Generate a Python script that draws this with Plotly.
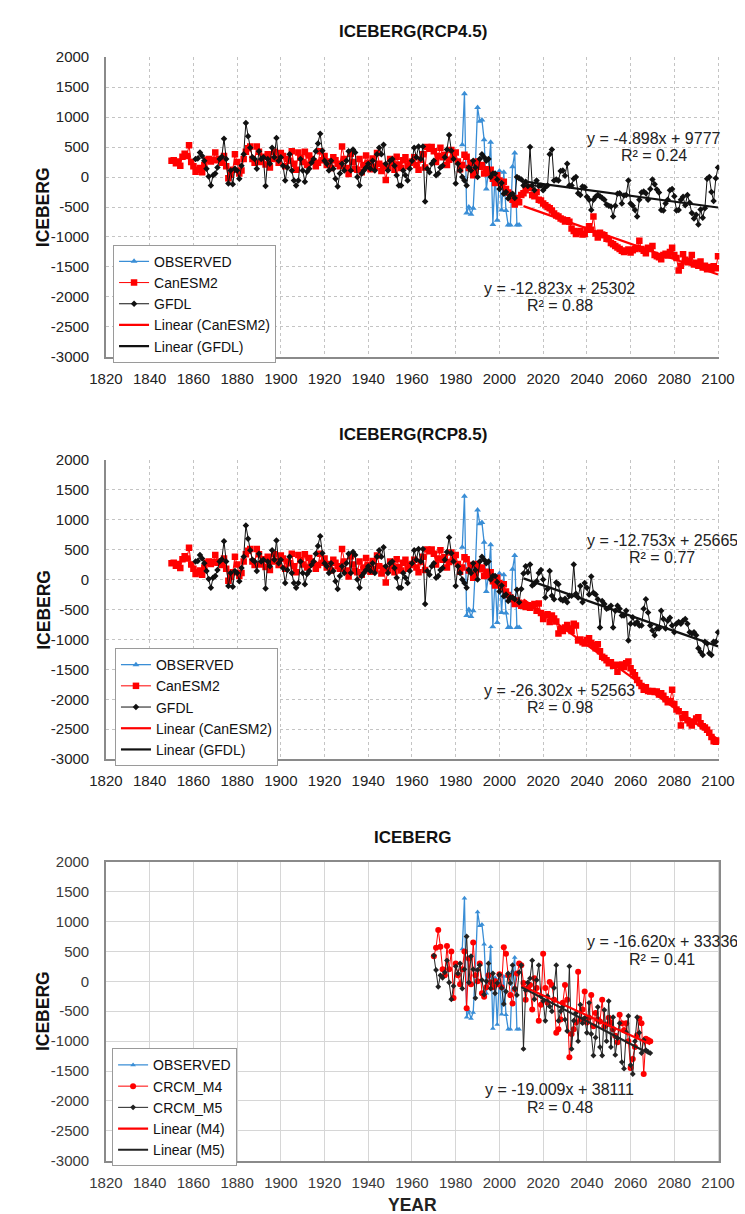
import plotly.graph_objects as go

W, H = 745, 1214

# ---------------- data ----------------
obs_start = 1983
observed = [540, 1390, -600, -500, -620, -520, 200, 1160, 930, 950, 620, -200, 80, 580,
            -790, 60, -720, 100, -550, 80, -560, -800, -800, 170, 400, -800, -800]

can_start = 1850
can_hist = [270, 280, 230, 260, 190, 340, 390, 350, 530, 250,
            180, 90, 120, 150, 80, 200, 280, 300, 260, 290,
            410, 280, 300, 240, 350, 180, -20, 40, 120, 380,
            250, 60, 110, 300, 420, 480, 510, 300, 240, 510,
            420, 250, 340, 210, 380, 160, 300, 420, 310, 240,
            400, 350, 180, 300, 270, 430, 220, 120, 410, 320,
            250, 420, 200, 360, 300, 260, 180, 240, 430, 280,
            350, 200, 260, 150, 330, 280, 220, 180, 510, 300,
            150, 50, 390, 250, 140, 120, 300, 80, 200, 360,
            240, 130, 310, 170, 400, 220, 100, 190, -50, 160,
            300, 230, 120, 340, 210, 150, 280, 330, 180, 240,
            260, 330, 200, 120, 290, 380, 160, 500, 470, 500,
            430, 250, 350, 490, 330, 370, 200, 290, 450, 330,
            410, 260, 130, 200, 370, 340, 150, 240, 30, 100,
            260, 170, 200, 60, 130, 70, 120, -30, -100, 30,
            -60, -130, -80, -200, -260, -300]

gfdl_start = 1861
gfdl_hist = [300, 310, 410, 350, 270, 140, 10, -140, 30, 60,
             160, 300, 340, 640, 300, -110, 110, -120, 140, 110,
             -30, 190, 380, 900, 680, 490, 330, 300, 140, 430,
             300, 330, -150, 300, 220, 490, 330, 650, 270, 330,
             190, -60, 160, 380, 110, -60, -140, -60, 300, 110,
             -80, 90, 140, 240, 300, 430, 560, 720, 440, 270,
             220, 110, 270, 140, -30, -160, 60, 220, 110, 270,
             430, 110, 460, 410, 0, -140, 60, 110, 160, 220,
             140, 270, 110, 380, 490, 380, 540, 220, 110, 270,
             300, 190, 30, -140, -140, 110, 30, -60, 140, 270,
             490, 330, 510, 300, 510, -410, 140, 80, 220, 270,
             30, 60, 160, 190, 330, 460, 700, 440, 300, -110,
             220, 110, 0, -60, -140, 160, 110, 270, 160, 0,
             300, 380, 330, 270, 300, 0, 60, 60, -40, -200,
             -100, -280, -250, -360, -300]

fut_start = 2006
can_rcp45 = [-380, -460, -350, -420, -300, -270, -220, -180, -170, -300,
             -320, -250, -380, -390, -440, -470, -500, -520, -560, -610,
             -640, -660, -690, -710, -740, -720, -745, -860, -900, -950,
             -920, -900, -960, -950, -880, -820, -880, -660, -940, -1010,
             -930, -960, -970, -1030, -1040, -1100, -1120, -1150, -1175, -1200,
             -1230, -1250, -1230, -1210, -1260, -1220, -1200, -1180, -1065, -1200,
             -1230, -1270, -1180, -1200, -1150, -1300, -1320, -1340, -1370, -1300,
             -1280, -1310, -1250, -1180, -1300, -1350, -1560, -1480, -1290, -1380,
             -1420, -1400, -1300, -1460, -1430, -1480, -1410, -1510, -1480, -1540,
             -1500, -1530, -1490, -1520, -1320]
gfdl_rcp45 = [-280, -350, 0, -20, -40, -140, -80, -150, 500, -140,
              -220, -60, -150, -140, -220, -170, -140, 380, 460, -60,
              -40, -60, 100, 110, 20, 220, -140, -140, -30, 0,
              -270, -300, -160, -170, -330, -380, -550, -380, -330, -300,
              -320, -350, -380, -460, -480, -490, -660, -480, -280, -270,
              -440, -310, -300, -60, -440, -480, -550, -660, -380, -260,
              -240, -270, -380, -200, -40, -120, -210, -260, -550, -560,
              -440, -380, -220, -200, -320, -560, -550, -380, -330, -470,
              -300, -430, -600, -690, -630, -790, -540, -680, -520, -30,
              0, -250, -400, -20, 160]
can_rcp85 = [-330, -410, -350, -390, -440, -400, -460, -430, -470, -440,
             -410, -520, -400, -560, -660, -600, -580, -710, -600, -650,
             -700, -900, -830, -860, -800, -760, -820, -860, -740, -770,
             -1020, -1000, -1050, -1070, -1010, -980, -1060, -1100, -1150, -1080,
             -1200, -1290, -1310, -1350, -1400, -1380, -1440, -1425, -1540, -1430,
             -1420, -1460, -1400, -1370, -1480, -1550, -1600, -1680, -1730, -1780,
             -1840, -1800, -1860, -1870, -1860, -1880, -1870, -1920, -1900, -1940,
             -2000, -2050, -2030, -1840, -2080, -2170, -2200, -2440, -2310, -2250,
             -2350, -2400, -2440, -2370, -2320, -2300, -2400, -2450, -2470, -2510,
             -2560, -2630, -2700, -2710, -2690]
gfdl_rcp85 = [-300, -330, -170, -380, -160, 100, 220, 120, 250, -100,
              -70, -30, 110, 160, 0, -300, -160, 140, -270, -330,
              -50, -80, -330, -350, -320, -380, -270, -270, 250, -240,
              -300, -110, -380, -60, -140, -250, 50, -220, -250, -330,
              -800, -360, -410, -490, -470, -440, -800, -520, -440, -490,
              -600, -600, -520, -1020, -740, -630, -740, -710, -770, -770,
              -490, -330, -550, -770, -850, -930, -820, -820, -520, -660,
              -820, -690, -640, -770, -880, -740, -710, -740, -690, -660,
              -740, -880, -900, -880, -930, -1150, -1210, -1260, -1040, -1070,
              -1230, -1260, -1040, -1040, -880]

crcm_start = 1970
crcm_m4 = [420, 560, 860, 580, 200, 100, 590, 200, 500, -280,
           300, 100, -50, 200, 500, -450, 380, -50, 650, 100,
           0, 300, -200, -260, -100, 100, -20, -100, 0, -50,
           120, -100, 570, 460, 100, -230, -370, -130, 130, 300,
           270, -30, -310, -110, -60, -470, 50, -110, -660, -390,
           460, -110, -360, -10, -60, -310, -860, -800, -640, -360,
           -60, -310, -1270, -880, -800, -690, 160, -640, -470, -170,
           -690, -610, -230, -750, -530, -640, -670, -310, -750, -720,
           -610, -690, -800, -910, -1020, -560, -700, -820, -700, -1000,
           -1450, -1300, -1100, -900, -620, -700, -1550, -960, -980, -1000]
crcm_m5 = [430, 190, -90, 100, 60, 150, 350, -20, -300, -80,
           250, 130, 300, -120, 200, 750, -20, 420, 200, -280,
           190, 270, 20, -220, 0, 300, -120, 130, -200, -30,
           110, -110, -380, -170, 130, -30, 270, -120, -230, 150,
           270, -1130, -150, -20, 50, 350, -300, 20, 270, -250,
           -330, -660, -250, -420, -500, -110, 270, -660, -500, -420,
           -640, -830, 250, -1130, -660, -530, -1000, -390, -700, -610,
           -860, -360, -880, -1240, -940, -430, -1100, -1240, -480, -1000,
           -330, -1100, -600, -1230, -950, -700, -1350, -1460, -850, -580,
           -1400, -1550, -1000, -600, -860, -1200, -980, -1150, -1180, -1200]

# trend lines (slope, intercept, start year, end year) as printed on chart
trend_can45 = (-12.823, 25302, 2011, 2100)
trend_gfdl45 = (-4.898, 9777, 2010, 2100)
trend_can85 = (-26.302, 52563, 2011, 2100)
trend_gfdl85 = (-12.753, 25665, 2011, 2100)
trend_m4 = (-16.620, 33336, 2010, 2069)
trend_m5 = (-19.009, 38111, 2010, 2069)

x_ticks = list(range(1820, 2101, 20))
y_ticks = [2000, 1500, 1000, 500, 0, -500, -1000, -1500, -2000, -2500, -3000]

titles = ["ICEBERG(RCP4.5)", "ICEBERG(RCP8.5)", "ICEBERG"]

# ---------------- helpers ----------------
FONT = "Liberation Sans, Arial, sans-serif"
BLUE = "#3a8ed6"
RED = "#ff0000"
BLK = "#111111"


def yrs(start, vals):
    return list(range(start, start + len(vals)))


def ppx(p):
    return p / W


def ppy(p):
    return 1 - p / H


fig = go.Figure()


def add_series(n, x, y, name, color, symbol, msize, lw, legend, show=True):
    fig.add_trace(go.Scatter(
        x=x, y=y, name=name, mode="lines+markers",
        line=dict(color=color, width=lw),
        marker=dict(color=color, symbol=symbol, size=msize, line=dict(width=0)),
        xaxis="x" if n == 1 else f"x{n}", yaxis="y" if n == 1 else f"y{n}",
        legend=legend, showlegend=show))


def add_trend(n, tr, name, color, legend):
    s, b, x0, x1 = tr
    fig.add_trace(go.Scatter(
        x=[x0, x1], y=[s * x0 + b, s * x1 + b], name=name, mode="lines",
        line=dict(color=color, width=2.2),
        xaxis="x" if n == 1 else f"x{n}", yaxis="y" if n == 1 else f"y{n}",
        legend=legend))


# panels 1 & 2
for n, (can_f, gfdl_f, tc, tg, leg) in enumerate([
        (can_rcp45, gfdl_rcp45, trend_can45, trend_gfdl45, "legend"),
        (can_rcp85, gfdl_rcp85, trend_can85, trend_gfdl85, "legend2")], start=1):
    add_series(n, yrs(obs_start, observed), observed, "OBSERVED", BLUE, "triangle-up", 6, 1.3, leg)
    cy = can_hist + can_f
    add_series(n, yrs(can_start, cy), cy, "CanESM2", RED, "square", 6.5, 1, leg)
    gy = gfdl_hist + gfdl_f
    add_series(n, yrs(gfdl_start, gy), gy, "GFDL", BLK, "diamond", 5, 1, leg)
    add_trend(n, tc, "Linear (CanESM2)", RED, leg)
    add_trend(n, tg, "Linear (GFDL)", BLK, leg)

# panel 3
add_series(3, yrs(obs_start, observed), observed, "OBSERVED", BLUE, "triangle-up", 5, 1.3, "legend3")
add_series(3, yrs(crcm_start, crcm_m4), crcm_m4, "CRCM_M4", RED, "circle", 6, 1, "legend3")
add_series(3, yrs(crcm_start, crcm_m5), crcm_m5, "CRCM_M5", "#222222", "diamond", 4.5, 1, "legend3")
add_trend(3, trend_m4, "Linear (M4)", RED, "legend3")
add_trend(3, trend_m5, "Linear (M5)", "#222222", "legend3")

# ---------------- axes ----------------
xdom = [ppx(84.6), ppx(725.5)]
ydoms = [[ppy(344.7), ppy(40.7)], [ppy(752.7), ppy(449)], [ppy(1160), ppy(856.7)]]

layout = dict(
    width=W, height=H, margin=dict(l=0, r=0, t=0, b=0),
    paper_bgcolor="white", plot_bgcolor="white",
    font=dict(family=FONT, color="#222222"),
)

for i in range(3):
    sfx = "" if i == 0 else str(i + 1)
    blurred = (i == 2)
    gridc = "#d6d6d6" if blurred else "#c4c4c4"
    gdash = "solid" if blurred else "dot"
    gw = 1.4 if blurred else 1
    tickfont = dict(family=FONT, size=15, color="#3a3a3a" if blurred else "#222222")
    layout["xaxis" + sfx] = dict(
        domain=xdom, anchor="y" + sfx, range=[1820, 2100.6],
        tickvals=x_ticks, ticktext=[str(v) for v in x_ticks],
        showgrid=True, gridcolor=gridc, griddash=gdash, gridwidth=gw,
        showline=True, linecolor="#8a8a8a", linewidth=1.5,
        mirror=blurred, zeroline=False, ticks="",
        ticklabelstandoff=7, tickfont=tickfont, fixedrange=True)
    layout["yaxis" + sfx] = dict(
        domain=ydoms[i], anchor="x" + sfx, range=[-3000, 2000],
        tickvals=y_ticks, ticktext=[str(v) for v in y_ticks],
        showgrid=True, gridcolor=gridc, griddash=gdash, gridwidth=gw,
        showline=True, linecolor="#8a8a8a", linewidth=1.5,
        mirror=blurred, zeroline=False, ticks="",
        ticklabelstandoff=12, tickfont=tickfont, fixedrange=True)

legend_style = dict(
    bgcolor="white", bordercolor="#9a9a9a", borderwidth=1,
    font=dict(family=FONT, size=14, color="#111111"),
    xanchor="left", yanchor="top", itemwidth=30, tracegroupgap=0,
    itemclick=False, itemdoubleclick=False,
)
layout["legend"] = dict(legend_style, x=ppx(92), y=ppy(231))
layout["legend2"] = dict(legend_style, x=ppx(94), y=ppy(640))
layout["legend3"] = dict(legend_style, x=ppx(91), y=ppy(1046))

fig.update_layout(**layout)

# ---------------- text ----------------
ann = []
cx = (84.6 + 725.5) / 2
for t, yc in zip(titles, [14.5, 423, 832.5]):
    ann.append(dict(text=f"<b>{t}</b>", x=ppx(cx), y=ppy(yc), xref="paper", yref="paper",
                    showarrow=False, xanchor="center", yanchor="middle",
                    font=dict(family=FONT, size=17, color="#111111")))
for yc in [192.7, 601, 1008]:
    ann.append(dict(text="<b>ICEBERG</b>", x=ppx(19), y=ppy(yc), xref="paper", yref="paper",
                    showarrow=False, textangle=-90, xanchor="center", yanchor="middle",
                    font=dict(family=FONT, size=17.5, color="#111111")))
ann.append(dict(text="<b>YEAR</b>", x=ppx(405), y=ppy(1205), xref="paper", yref="paper",
                showarrow=False, xanchor="center", yanchor="middle",
                font=dict(family=FONT, size=17.5, color="#222222")))

eqs = [
    ("y = -4.898x + 9777", "R² = 0.24", 657, 123),
    ("y = -12.823x + 25302", "R² = 0.88", 559, 275),
    ("y = -12.753x + 25665", "R² = 0.77", 666, 531),
    ("y = -26.302x + 52563", "R² = 0.98", 559, 683),
    ("y = -16.620x + 33336", "R² = 0.41", 666, 938),
    ("y = -19.009x + 38111", "R² = 0.48", 559, 1088),
]
for eq, r2, xc, yc in eqs:
    for k, t in enumerate([eq, r2]):
        ann.append(dict(text=t, x=ppx(xc), y=ppy(yc + 17.5 * k), xref="paper", yref="paper",
                        showarrow=False, xanchor="center", yanchor="middle",
                        font=dict(family=FONT, size=16, color="#222222")))

fig.update_layout(annotations=ann)

fig.write_html("out.html")
